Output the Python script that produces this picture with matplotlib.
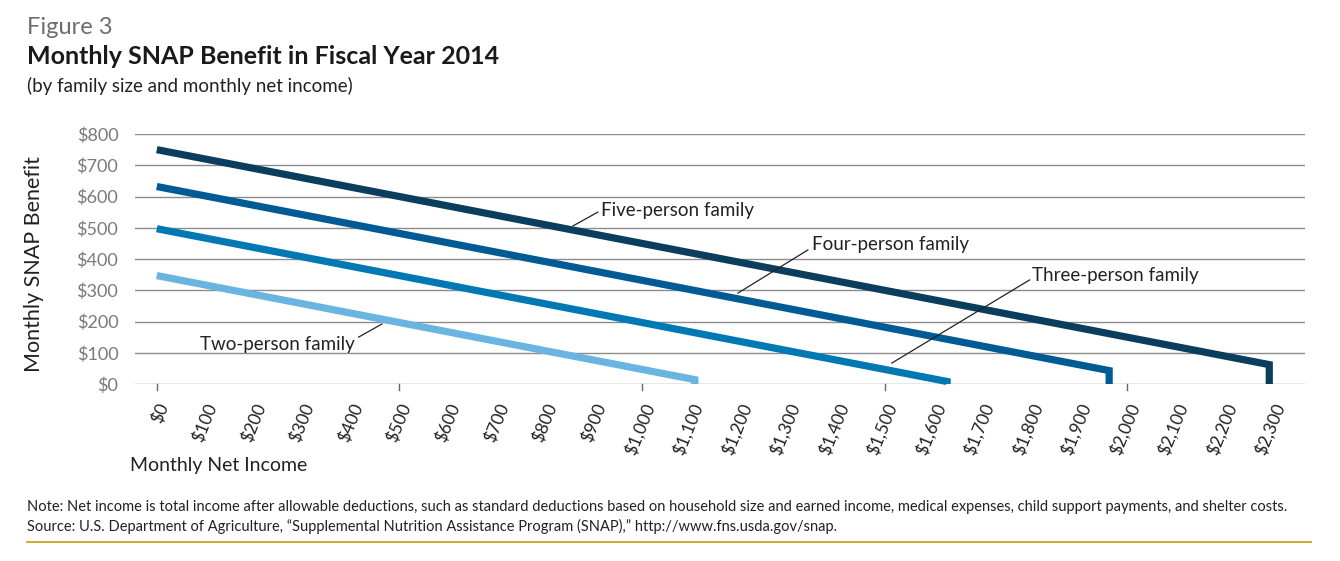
import matplotlib.pyplot as plt

plt.rcParams['font.family'] = ['Lato', 'DejaVu Sans']

# monthly net income (x) and monthly benefit (y) for each family size
two_x = [0, 1109, 1109]
two_y = [347, 14, 0]
three_x = [0, 1629, 1629]
three_y = [497, 8, 0]
four_x = [0, 1963, 1963]
four_y = [632, 43, 0]
five_x = [0, 2293, 2293]
five_y = [750, 62, 0]

x_ticks = list(range(0, 2400, 100))
x_labels = ['$' + format(v, ',') for v in x_ticks]
y_ticks = list(range(0, 900, 100))
y_labels = ['$' + str(v) for v in y_ticks]

fig = plt.figure(figsize=(13.4, 5.61), dpi=100)
ax = fig.add_axes([0.1007, 0.3155, 0.8733, 0.4456])

series = [
    (five_x, five_y, '#0b3d5c'),
    (four_x, four_y, '#005b94'),
    (three_x, three_y, '#0078b4'),
    (two_x, two_y, '#6ab4e2'),
]
for xs, ys, c in series:
    ax.plot(xs, ys, color=c, lw=5.2, solid_joinstyle='miter',
            solid_capstyle='butt', clip_on=False, zorder=3)

ax.set_xlim(-45, 2367)
ax.set_ylim(0, 800)
ax.set_xticks(x_ticks)
ax.set_xticklabels(x_labels, rotation=68, ha='right', va='top',
                   rotation_mode='anchor', fontsize=12.5, color='#222222')
ax.set_yticks(y_ticks)
ax.set_yticklabels(y_labels, fontsize=13, color='#7a7a7a')
ax.tick_params(axis='x', length=0, pad=12)
ax.tick_params(axis='y', length=0, pad=12)
ax.grid(axis='y', color='#8c8c8c', lw=1)
ax.set_axisbelow(True)
for s in ax.spines.values():
    s.set_visible(False)

# tick marks only every $500
for v in range(0, 2400, 500):
    ax.plot([v, v], [0, -0.025], color='#666666', lw=1,
            transform=ax.get_xaxis_transform(), clip_on=False)

# series labels with leader lines
notes = [
    ('Five-person family', (858, 506), (909, 550), (915, 556)),
    ('Four-person family', (1198, 291), (1342, 429), (1350, 448)),
    ('Three-person family', (1515, 67), (1799, 333), (1805, 348)),
    ('Two-person family', (464, 192), (416, 150), (408, 128)),
]
for txt, p0, p1, tp in notes:
    ax.plot([p0[0], p1[0]], [p0[1], p1[1]], color='#222222', lw=0.9, zorder=4)
    ha = 'right' if txt.startswith('Two') else 'left'
    ax.text(tp[0], tp[1], txt, fontsize=13.5, color='#222222', ha=ha,
            va='center', zorder=4)

ax.set_ylabel('Monthly SNAP Benefit', fontsize=15.5, color='#222222')
ax.yaxis.set_label_coords(-0.078, 0.48)
fig.text(0.097, 0.17, 'Monthly Net Income', fontsize=14, color='#222222',
         va='center')

fig.text(0.02, 0.951, 'Figure 3', fontsize=17, color='#6d6d6d', va='center')
fig.text(0.02, 0.9, 'Monthly SNAP Benefit in Fiscal Year 2014', fontsize=18,
         fontweight='bold', color='#1a1a1a', va='center')
fig.text(0.02, 0.846, '(by family size and monthly net income)', fontsize=13.5,
         color='#222222', va='center')

fig.text(0.02, 0.096, 'Note: Net income is total income after allowable deductions, '
         'such as standard deductions based on household size and earned income, '
         'medical expenses, child support payments, and shelter costs.',
         fontsize=10.5, color='#222222', va='center')
fig.text(0.02, 0.062, 'Source: U.S. Department of Agriculture, \u201cSupplemental '
         'Nutrition Assistance Program (SNAP),\u201d http://www.fns.usda.gov/snap.',
         fontsize=10.5, color='#222222', va='center')
fig.add_artist(plt.Line2D([0.02, 0.978], [0.034, 0.034], color='#c9a21b', lw=1.3))

fig.savefig('out.png', dpi=100)
